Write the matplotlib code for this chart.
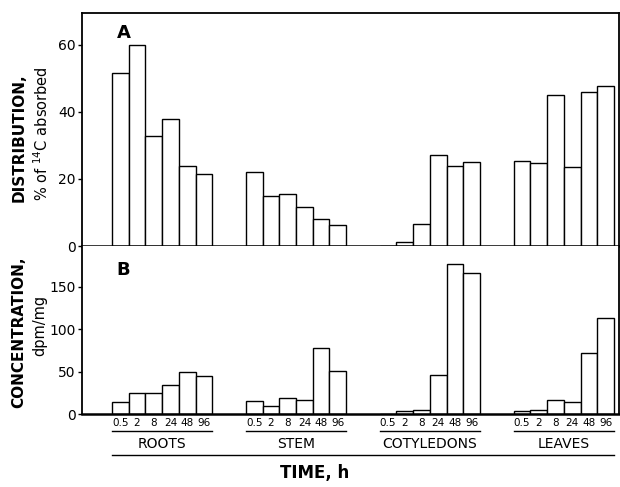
import matplotlib
matplotlib.use("Agg")
import matplotlib.pyplot as plt
import matplotlib.transforms as mtrans
import numpy as np

organs = ["ROOTS", "STEM", "COTYLEDONS", "LEAVES"]
times = ["0.5", "2", "8", "24", "48", "96"]

distribution = {
    "ROOTS":      [51.5, 60.0, 32.8, 37.9, 23.9, 21.6],
    "STEM":       [22.2, 15.0, 15.5, 11.6, 8.1, 6.2],
    "COTYLEDONS": [0.1, 1.3, 6.5, 27.1, 24.0, 25.0],
    "LEAVES":     [25.3, 24.9, 45.1, 23.5, 45.8, 47.6],
}
concentration = {
    "ROOTS":      [14.5, 25.0, 24.3, 34.5, 49.9, 45.0],
    "STEM":       [15.3, 9.8, 18.8, 16.5, 77.7, 50.6],
    "COTYLEDONS": [0.3, 3.0, 5.0, 46.3, 176.7, 165.7],
    "LEAVES":     [3.9, 4.3, 16.5, 13.7, 72.2, 113.5],
}

W, H = 620, 487
fig = plt.figure(figsize=(W / 100, H / 100), dpi=100)
plt.rcParams['font.family'] = ['DejaVu Sans']

left, right = 82 / W, 619 / W
y_top, y_mid, y_bot = 1 - 13 / H, 1 - 246 / H, 1 - 414 / H
axA = fig.add_axes([left, y_mid, right - left, y_top - y_mid])
axB = fig.add_axes([left, y_bot, right - left, y_mid - y_bot])

period = len(times) + 2
positions = []
for g in range(len(organs)):
    for i in range(len(times)):
        positions.append(g * period + i)
positions = np.array(positions, dtype=float)

valsA = [v for o in organs for v in distribution[o]]
valsB = [v for o in organs for v in concentration[o]]

for ax, vals in ((axA, valsA), (axB, valsB)):
    ax.bar(positions, vals, width=1.0, color="white", edgecolor="black", linewidth=1.0)
    ax.set_xlim(-2.29, 29.8)
    for s in ax.spines.values():
        s.set_linewidth(1.3)
    ax.tick_params(axis="y", direction="out", length=3, width=1, labelsize=10, pad=1.5)

axA.set_ylim(0, 69.5)
axA.set_yticks([0, 20, 40, 60])
axA.set_xticks([])
axA.spines["bottom"].set_linewidth(1.8)

axB.set_ylim(0, 198)
axB.set_yticks([0, 50, 100, 150])
axB.spines["top"].set_visible(False)
axB.spines["bottom"].set_linewidth(1.8)
axB.set_xticks(positions)
axB.set_xticklabels(times * len(organs), fontsize=7.5)
axB.tick_params(axis="x", length=0, pad=3)

axA.text(124 / W, 1 - 33 / H, "A", transform=fig.transFigure, fontsize=13,
         fontweight="bold", ha="center", va="center")
axB.text(123 / W, 1 - 270 / H, "B", transform=fig.transFigure, fontsize=13,
         fontweight="bold", ha="center", va="center")

fig.text(19 / W, 1 - 138 / H, "DISTRIBUTION,", rotation=90, fontsize=11,
         fontweight="bold", ha="center", va="center")
fig.text(42 / W, 1 - 134 / H, "% of $^{14}$C absorbed", rotation=90, fontsize=10.5,
         ha="center", va="center")
fig.text(19 / W, 1 - 332 / H, "CONCENTRATION,", rotation=90, fontsize=11,
         fontweight="bold", ha="center", va="center")
fig.text(40 / W, 1 - 325 / H, "dpm/mg", rotation=90, fontsize=10.5,
         ha="center", va="center")

tr = mtrans.blended_transform_factory(axB.transData, fig.transFigure)
for g, organ in enumerate(organs):
    x0 = g * period - 0.5
    x1 = g * period + len(times) - 0.5
    axB.plot([x0, x1], [1 - 431 / H] * 2, color="black", lw=1.0,
             transform=tr, clip_on=False)
    axB.text((x0 + x1) / 2, 1 - 444 / H, organ, transform=tr, ha="center",
             va="center", fontsize=10)
axB.plot([-0.5, 29.5], [1 - 455 / H] * 2, color="black", lw=1.0,
         transform=tr, clip_on=False)
fig.text(315 / W, 1 - 473 / H, "TIME, h", ha="center", va="center",
         fontsize=12, fontweight="bold")

fig.savefig("out.png", dpi=100)
